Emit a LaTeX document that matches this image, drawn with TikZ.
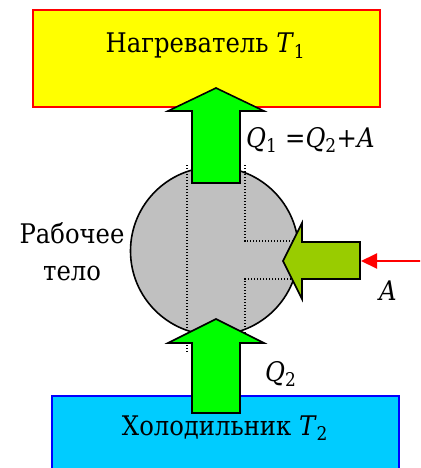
\documentclass[tikz,border=0pt]{standalone}
\usepackage{fontspec}
\setmainfont{DejaVu Serif Condensed}
\usetikzlibrary{arrows.meta}
\definecolor{heatfill}{HTML}{FFFF00}
\definecolor{heatline}{HTML}{FF0000}
\definecolor{coldfill}{HTML}{00CCFF}
\definecolor{coldline}{HTML}{0000FF}
\definecolor{bodyfill}{HTML}{C0C0C0}
\definecolor{heatflow}{HTML}{00FF00}
\definecolor{workflow}{HTML}{99CC00}

\begin{document}
\begin{tikzpicture}[x=1pt,y=-1pt,
  font=\fontsize{27}{37}\selectfont,
  res/.style={draw,line width=2pt,inner sep=0pt},
  flow/.style={draw=black,line width=1.6pt,line join=miter,fill=heatflow},
  guide/.style={line width=1.2pt,dash pattern=on 1.2pt off 1.8pt},
  push/.style={-{Triangle[length=16pt,width=15pt]},line width=2pt,draw=heatline},
  lbl/.style={inner sep=0pt}]
  \useasboundingbox (0,0) rectangle (420,468);
  \clip (0,0) rectangle (420,468);
  % reservoirs
  \node[res,fill=heatfill,draw=heatline,minimum width=347,minimum height=97] (heater) at (206.5,59) {};
  \node[lbl,anchor=base] (heatname) at (205.5,53) {Нагреватель \textit{T}\textsubscript{1}};
  \node[res,fill=coldfill,draw=coldline,minimum width=347,minimum height=100] (cooler) at (225.5,446) {};
  \node[lbl,anchor=base] (coldname) at (225,435) {Холодильник \textit{T}\textsubscript{2}};
  % working body
  \node[circle,draw,line width=1.6pt,fill=bodyfill,minimum size=168,inner sep=0pt] (body) at (214.5,251) {};
  \node[lbl,align=center,anchor=base] (bodyname) at (72,280) {Рабочее\\тело};
  \draw[guide] (187,165) -- (187,353);
  \draw[guide] (245,165) -- (245,241) -- (300,241);
  \draw[guide] (300,279) -- (245,279) -- (245,333);
  % heat and work flows
  \draw[flow] (192,183) -- (192,111) -- (168,111) -- (216,88) -- (264,111) -- (240,111) -- (240,183) -- cycle;
  \draw[flow] (192,413) -- (192,343) -- (168,343) -- (216,319) -- (264,343) -- (240,343) -- (240,413) -- cycle;
  \draw[flow,fill=workflow] (360,242) -- (302,242) -- (302,223) -- (283,261) -- (302,299) -- (302,279) -- (360,279) -- cycle;
  \coordinate (worktail) at (361,261);
  \coordinate (workfrom) at (422,261);
  \draw[push] (workfrom) -- (worktail);
  % labels
  \node[lbl,anchor=base west] (qhot) at (246,147) {\textit{Q}\textsubscript{1} =\textit{Q}\textsubscript{2}+\textit{A}};
  \node[lbl,anchor=base west] (qcold) at (265,381) {\textit{Q}\textsubscript{2}};
  \node[lbl,anchor=base] (work) at (388,300) {\textit{A}};
\end{tikzpicture}
\end{document}
